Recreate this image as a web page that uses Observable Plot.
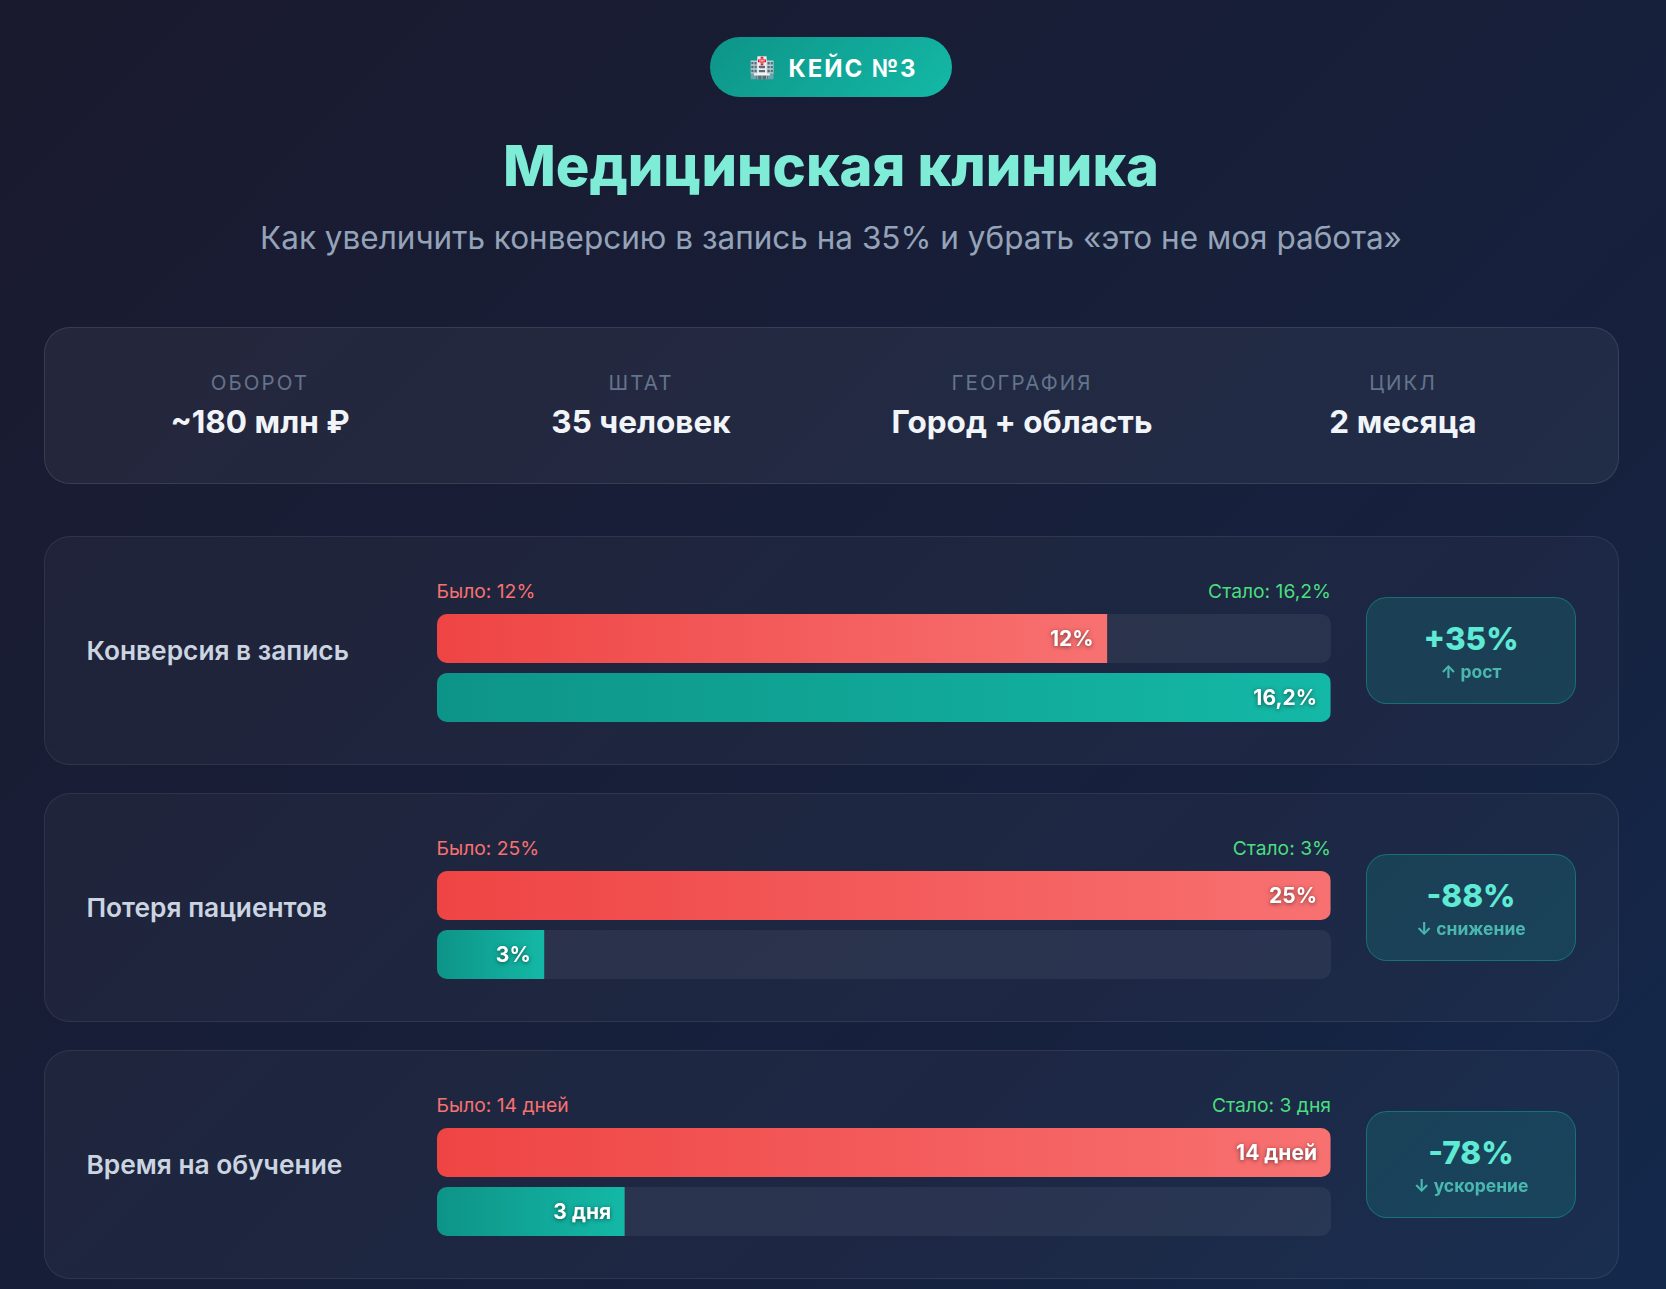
<!DOCTYPE html>
<html lang="ru">
<head>
<meta charset="utf-8">
<script src="https://cdn.jsdelivr.net/npm/d3@7"></script>
<script src="https://cdn.jsdelivr.net/npm/@observablehq/plot@0.6"></script>
<style>
*{box-sizing:border-box;margin:0;padding:0}
html,body{width:1666px;height:1289px;overflow:hidden}
body{position:relative;font-family:Inter,sans-serif;background:#1a1a2e;color:#fff}
.bg{position:absolute;left:0;top:0;width:1666px;height:2500px;background:linear-gradient(135deg,#1a1a2e 0%,#16213e 50%,#0f3460 100%)}
.abs{position:absolute}
.pill{left:710px;top:37px;width:242px;height:60px;border-radius:30px;background:linear-gradient(135deg,#0d9488,#14b8a6);display:flex;align-items:center;justify-content:center;font-size:24px;font-weight:700;letter-spacing:1.9px;color:#fff;white-space:pre;padding-top:2px;padding-left:4px}
.pill .e{font-size:21px;margin:-2px 14px 0 0;letter-spacing:0}
h1{left:0;width:1662px;top:130px;text-align:center;font-size:56px;line-height:72px;font-weight:800;color:#7eecd7}
.sub{left:0;width:1662px;top:216px;text-align:center;font-size:31.5px;line-height:44px;color:#94a3b8;font-weight:400}
.info{left:44px;top:327px;width:1575px;height:157px;border-radius:26px;background:rgba(255,255,255,.05);border:1px solid rgba(255,255,255,.1)}
.cell{position:absolute;top:42px;width:381px;text-align:center}
.cell .k{font-size:20.5px;line-height:26px;letter-spacing:2.05px;color:#64748b;font-weight:400}
.cell .v{font-size:31.5px;line-height:40px;font-weight:700;color:#f1f5f9;margin-top:6px}
.card{left:44px;width:1575px;height:229px;border-radius:26px;background:rgba(255,255,255,.03);border:1px solid rgba(255,255,255,.08)}
.name{position:absolute;left:41.5px;top:-1px;height:229px;display:flex;align-items:center;font-size:26.3px;font-weight:600;color:#cbd5e1}
.was,.now{position:absolute;top:41px;font-size:19.3px;line-height:26px}
.was{left:391.5px;color:#f87171}
.now{right:287px;color:#4ade80}
.row{position:absolute;left:392px;width:893.5px;height:49px;border-radius:10px;overflow:hidden;background:rgba(255,255,255,.06)}
.row svg{display:block;background:transparent}
.row svg g[aria-label="text"]{filter:drop-shadow(0 1px 2px rgba(0,0,0,.5))}
.badge{position:absolute;left:1321px;top:60px;width:210px;height:107px;border-radius:21px;background:rgba(20,184,166,.17);border:1px solid rgba(20,184,166,.4);text-align:center}
.badge .p{font-size:31.5px;line-height:40px;font-weight:800;color:#5eead4;margin-top:21px}
.badge .d{font-size:17.5px;line-height:24px;font-weight:700;color:#5eead4;opacity:.7;margin-top:1px}
</style>
</head>
<body>
<div class="bg"></div>
<div class="abs pill"><span class="e">🏥</span>КЕЙС №3</div>
<h1 class="abs">Медицинская клиника</h1>
<div class="abs sub">Как увеличить конверсию в запись на 35% и убрать «это не моя работа»</div>
<div class="abs info" id="info"></div>
<div id="cards"></div>
<script>
const infoKeys = ["ОБОРОТ", "ШТАТ", "ГЕОГРАФИЯ", "ЦИКЛ"];
const infoValues = ["~180 млн ₽", "35 человек", "Город + область", "2 месяца"];

const metricNames = ["Конверсия в запись", "Потеря пациентов", "Время на обучение"];
// bar lengths as drawn, percent of the track
const beforeShares = [75, 100, 100];
const afterShares = [100, 12, 21];
const beforeBarLabels = ["12%", "25%", "14 дней"];
const afterBarLabels = ["16,2%", "3%", "3 дня"];
const beforeCaptions = ["Было: 12%", "Было: 25%", "Было: 14 дней"];
const afterCaptions = ["Стало: 16,2%", "Стало: 3%", "Стало: 3 дня"];
const changeValues = ["+35%", "-88%", "-78%"];
const changeNotes = ["↑ рост", "↓ снижение", "↓ ускорение"];
const cardTops = [536, 793, 1050];

const gradients = {
  before: ["#ef4444", "#f87171"],
  after: ["#0d9488", "#14b8a6"]
};

infoKeys.forEach((k, i) => {
  const c = document.createElement("div");
  c.className = "cell";
  c.style.left = (24.5 + i * 381) + "px";
  c.innerHTML = `<div class="k">${k}</div><div class="v">${infoValues[i]}</div>`;
  document.getElementById("info").appendChild(c);
});

let gradId = 0;
function gradientDefs(stops) {
  const id = "grad" + (gradId++);
  const mark = () => {
    const svg = d3.create("svg:g");
    const g = svg.append("defs").append("linearGradient").attr("id", id);
    g.append("stop").attr("offset", "0%").attr("stop-color", stops[0]);
    g.append("stop").attr("offset", "100%").attr("stop-color", stops[1]);
    return svg.node();
  };
  return {id, mark};
}

function rowPlot(value, label, stops) {
  const {id, mark} = gradientDefs(stops);
  const data = [{value, label}];
  return Plot.plot({
    width: 893.5,
    height: 49,
    margin: 0,
    x: {domain: [0, 100], axis: null},
    marks: [
      mark,
      Plot.barX(data, {x1: 0, x2: "value", fill: `url(#${id})`}),
      Plot.text(data, {
        x: "value", text: "label", frameAnchor: "middle", textAnchor: "end", dx: -14, dy: 0,
        fill: "#fff", fontSize: 21, fontWeight: 700, fontFamily: "Inter"
      })
    ]
  });
}

const host = document.getElementById("cards");
metricNames.forEach((name, i) => {
  const card = document.createElement("div");
  card.className = "abs card";
  card.style.top = cardTops[i] + "px";
  card.innerHTML = `<div class="name">${name}</div>
    <div class="was">${beforeCaptions[i]}</div>
    <div class="now">${afterCaptions[i]}</div>
    <div class="badge"><div class="p">${changeValues[i]}</div><div class="d">${changeNotes[i]}</div></div>`;
  [[beforeShares[i], beforeBarLabels[i], gradients.before, 77],
   [afterShares[i], afterBarLabels[i], gradients.after, 136]].forEach(([v, l, s, top]) => {
    const row = document.createElement("div");
    row.className = "row";
    row.style.top = top + "px";
    row.appendChild(rowPlot(v, l, s));
    card.appendChild(row);
  });
  host.appendChild(card);
});
</script>
</body>
</html>
